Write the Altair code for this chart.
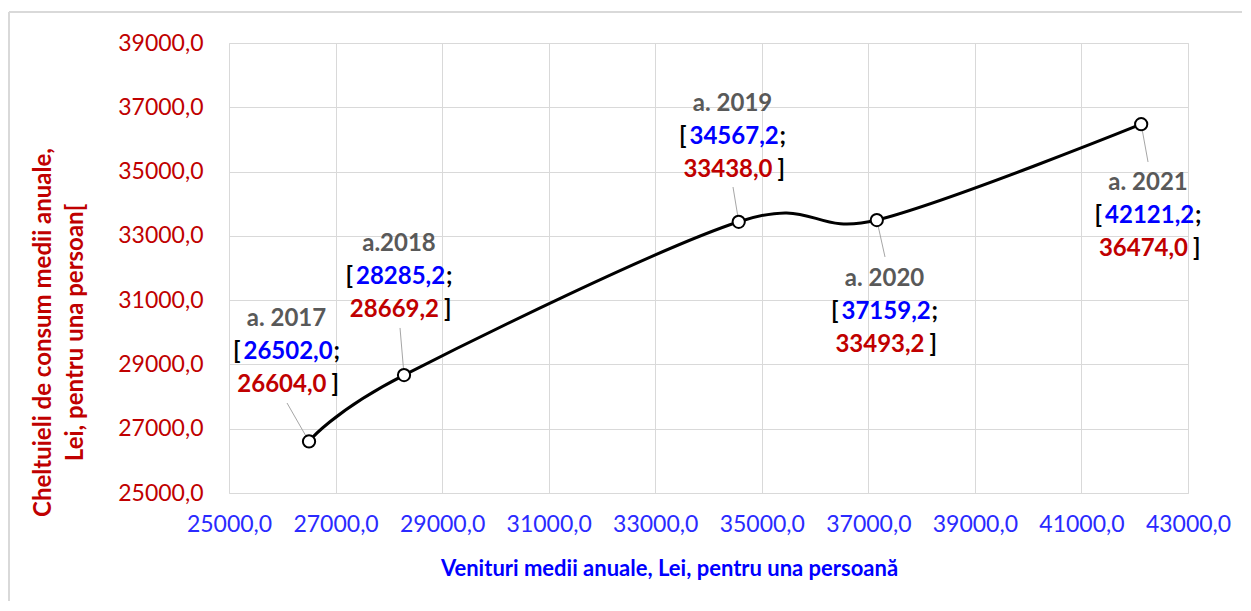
import altair as alt
import pandas as pd

# ---- data ----
years = ["a. 2017", "a.2018", "a. 2019", "a. 2020", "a. 2021"]
venituri = [26502.0, 28285.2, 34567.2, 37159.2, 42121.2]
cheltuieli = [26604.0, 28669.2, 33438.0, 33493.2, 36474.0]

# label anchor (centre of the middle label row) in data units
label_x = [26079, 28191, 34451, 37304, 42250]
label_y = [29387, 31720, 36076, 30631, 33618]
# leader line start (label side) in data units
lead_x = [26089, 28210, 34460, 37313, 42250]
lead_y = [27800, 30134, 34520, 32343, 35298]

x_ticks = [25000, 27000, 29000, 31000, 33000, 35000, 37000, 39000, 41000, 43000]
y_ticks = [25000, 27000, 29000, 31000, 33000, 35000, 37000, 39000]


def fmt(v):
    return f"{v:.1f}".replace(".", ",")


df = pd.DataFrame({"year": years, "x": venituri, "y": cheltuieli})
lab = pd.DataFrame({
    "year": years,
    "lx": label_x, "ly": label_y,
    "sx": lead_x, "sy": lead_y,
    "x": venituri, "y": cheltuieli,
    "xs": [fmt(v) for v in venituri],
    "ys": [fmt(v) for v in cheltuieli],
})

FONT = "Lato"
BLUE = "#0000FF"
RED = "#C00000"
GRAY = "#595959"
LBL = 24

xscale = alt.Scale(domain=[25000, 43000], nice=False, zero=False)
yscale = alt.Scale(domain=[25000, 39000], nice=False, zero=False)

X = alt.X(
    "x:Q", scale=xscale,
    axis=alt.Axis(
        values=x_ticks,
        labelExpr="replace(format(datum.value, '.1f'), '.', ',')",
        labelOverlap=False, labelFlush=False,
        title="Venituri medii anuale, Lei, pentru una persoană",
        titleColor=BLUE, titleFont=FONT, titleFontSize=22, titleFontWeight="bold",
        titlePadding=22, titleX=440,
        labelColor="#2A2AFF", labelFont=FONT, labelFontSize=23,
        labelPadding=20, ticks=False, domain=False,
        gridColor="#D9D9D9", gridWidth=1,
    ),
)
Y = alt.Y(
    "y:Q", scale=yscale,
    axis=alt.Axis(
        values=y_ticks,
        labelExpr="replace(format(datum.value, '.1f'), '.', ',')",
        labelOverlap=False, labelFlush=False,
        title=["Cheltuieli de consum medii anuale,", "Lei, pentru una persoan["],
        titleColor=RED, titleFont=FONT, titleFontSize=24, titleFontWeight="bold",
        titlePadding=30, titleLineHeight=32, titleY=289,
        labelColor=RED, labelFont=FONT, labelFontSize=23,
        labelPadding=26, ticks=False, domain=False,
        gridColor="#D9D9D9", gridWidth=1,
    ),
)

base = alt.Chart(df)

line = base.mark_line(color="black", strokeWidth=3, interpolate="cardinal", tension=0).encode(
    x=X, y=Y, order=alt.Order("x:Q")
)

lab_base = alt.Chart(lab)

leaders = lab_base.mark_rule(color="#A6A6A6", strokeWidth=1).encode(
    x=alt.X("sx:Q", scale=xscale), y=alt.Y("sy:Q", scale=yscale),
    x2="x:Q", y2="y:Q",
)

points = base.mark_point(
    filled=True, fill="white", stroke="black", strokeWidth=2, size=150, opacity=1
).encode(x=alt.X("x:Q", scale=xscale), y=alt.Y("y:Q", scale=yscale))


def tlayer(field=None, const=None, color="black", align="center", dx=0, dy=0):
    enc = dict(x=alt.X("lx:Q", scale=xscale), y=alt.Y("ly:Q", scale=yscale))
    if field is not None:
        enc["text"] = alt.Text(f"{field}:N")
    else:
        enc["text"] = alt.value(const)
    return lab_base.mark_text(
        font=FONT, fontSize=LBL, fontWeight="bold", color=color,
        align=align, baseline="middle", dx=dx, dy=dy,
    ).encode(**enc)


texts = [
    tlayer("year", color=GRAY, align="center", dx=0, dy=-33),
    tlayer(const="[", color="black", align="right", dx=-46, dy=0),
    tlayer("xs", color=BLUE, align="left", dx=-43, dy=0),
    tlayer(const=";", color="black", align="left", dx=47, dy=0),
    tlayer("ys", color=RED, align="right", dx=40, dy=33),
    tlayer(const="]", color="black", align="left", dx=45, dy=33),
]

# outer frame lines (top and left), as in the original figure
frame_top = alt.Chart(df).mark_rule(color="#D9D9D9", strokeWidth=2).encode(
    x=alt.value(-220), x2=alt.value(1100), y=alt.value(-31)
)
frame_left = alt.Chart(df).mark_rule(color="#D9D9D9", strokeWidth=2).encode(
    x=alt.value(-220), y=alt.value(-31), y2=alt.value(600)
)

chart = alt.layer(
    line, leaders, points, *texts, frame_top, frame_left
).properties(
    width=959, height=450,
    autosize=alt.AutoSizeParams(type="none"),
    padding={"left": 221, "top": 35, "right": 54, "bottom": 108},
).configure_view(
    stroke="#D9D9D9", strokeWidth=1
).configure(font=FONT)

chart.save("out.html", embed_options={"renderer": "svg", "actions": False})
